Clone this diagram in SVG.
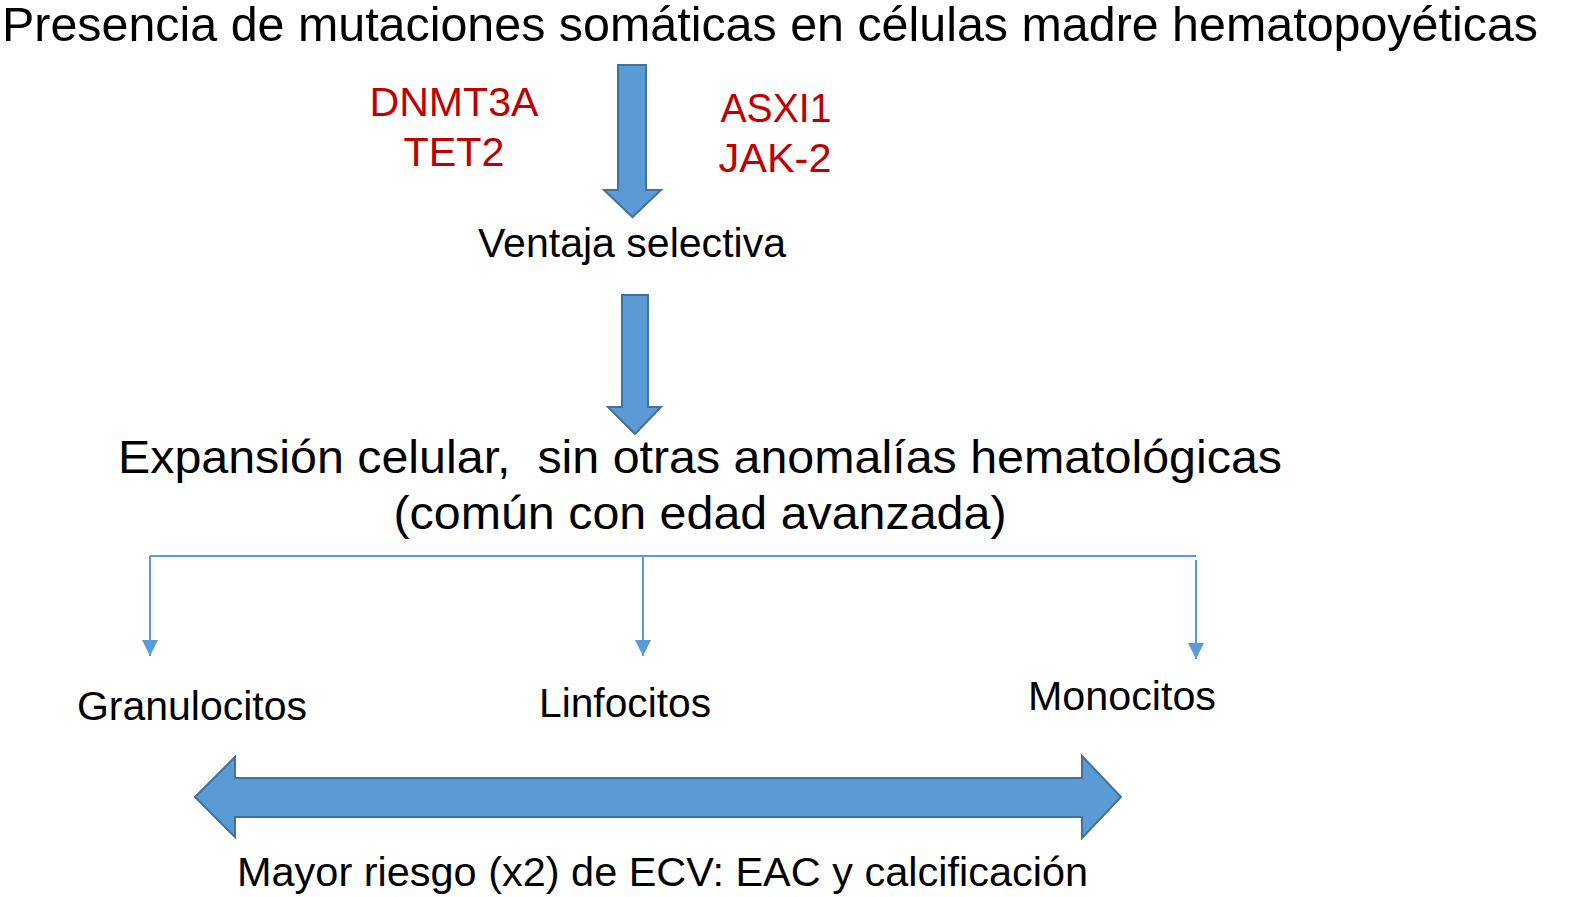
<svg xmlns="http://www.w3.org/2000/svg" width="1580" height="897" viewBox="0 0 1580 897">
  <defs>
    <marker id="tri" markerUnits="userSpaceOnUse" markerWidth="16" markerHeight="16" viewBox="0 0 10 10" refX="10" refY="5" orient="auto">
      <path d="M0,0 L10,5 L0,10 z" fill="#5b9bd5"/>
    </marker>
    <style>
      text { font-family: "Liberation Sans", Arial, Helvetica, sans-serif; fill: #000; }
      .red { fill: #c00000; font-size: 41px; text-anchor: middle; }
      .mid { text-anchor: middle; }
      .big { fill: #5b9bd5; stroke: #41719c; stroke-width: 2; stroke-linejoin: miter; }
      .conn { stroke: #5b9bd5; stroke-width: 2; fill: none; }
    </style>
  </defs>
  <rect width="1580" height="897" fill="#ffffff"/>

  <g id="title">
    <text x="2" y="41" font-size="48" textLength="1536" lengthAdjust="spacingAndGlyphs">Presencia de mutaciones somáticas en células madre hematopoyéticas</text>
  </g>
  <g id="genes-left">
    <text class="red" x="454" y="116" textLength="169" lengthAdjust="spacingAndGlyphs">DNMT3A</text>
    <text class="red" x="454" y="166" textLength="101" lengthAdjust="spacingAndGlyphs">TET2</text>
  </g>
  <g id="genes-right">
    <text class="red" x="776" y="122" textLength="111" lengthAdjust="spacingAndGlyphs">ASXI1</text>
    <text class="red" x="775" y="172" textLength="113" lengthAdjust="spacingAndGlyphs">JAK-2</text>
  </g>
  <g id="ventaja">
    <text class="mid" x="632" y="257" font-size="41" textLength="308" lengthAdjust="spacingAndGlyphs">Ventaja selectiva</text>
  </g>
  <g id="expansion">
    <text class="mid" x="700" y="473" font-size="47" textLength="1164" lengthAdjust="spacingAndGlyphs" xml:space="preserve">Expansión celular,  sin otras anomalías hematológicas</text>
    <text class="mid" x="700" y="529" font-size="47" textLength="613" lengthAdjust="spacingAndGlyphs">(común con edad avanzada)</text>
  </g>
  <g id="granulocitos">
    <text x="77" y="720" font-size="40" textLength="230" lengthAdjust="spacingAndGlyphs">Granulocitos</text>
  </g>
  <g id="linfocitos">
    <text x="539" y="717" font-size="40" textLength="172" lengthAdjust="spacingAndGlyphs">Linfocitos</text>
  </g>
  <g id="monocitos">
    <text x="1028" y="710" font-size="40" textLength="188" lengthAdjust="spacingAndGlyphs">Monocitos</text>
  </g>
  <g id="riesgo">
    <text x="237" y="886" font-size="40" textLength="851" lengthAdjust="spacingAndGlyphs">Mayor riesgo (x2) de ECV: EAC y calcificación</text>
  </g>

  <g id="connectors">
    <polygon class="big" points="618,65 646,65 646,190 661,190 632.5,217 604,190 618,190"/>
    <polygon class="big" points="622,295 648,295 648,407 661,407 635,434 608,407 622,407"/>
    <polygon class="big" points="195,797 235,757 235,778 1082,778 1082,756 1121,797 1082,838 1082,817 235,817 235,837"/>
    <path class="conn" d="M150,556 H1196"/>
    <path class="conn" d="M150,556 V656" marker-end="url(#tri)"/>
    <path class="conn" d="M643,556 V656" marker-end="url(#tri)"/>
    <path class="conn" d="M1196,560 V659" marker-end="url(#tri)"/>
  </g>
</svg>
